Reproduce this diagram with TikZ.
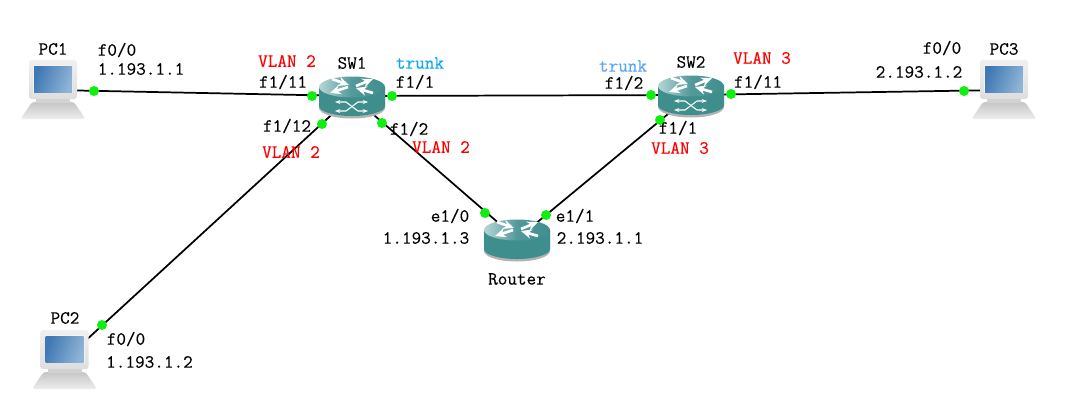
\documentclass[tikz,border=0pt]{standalone}
\usepackage{fontspec}
\setmonofont[FakeBold=0.35]{Latin Modern Mono}
\usetikzlibrary{arrows.meta}
\definecolor{teal1}{HTML}{3F8E8E}
\definecolor{teal2}{HTML}{B5D5D5}
\definecolor{port}{HTML}{10F010}
\definecolor{trunk1}{HTML}{0AA5F5}
\definecolor{trunk2}{HTML}{55A5F0}
\definecolor{screen1}{HTML}{3F78B4}
\definecolor{screen2}{HTML}{8FB4D6}
\tikzset{
  pics/drumicon/.style={code={
    \fill[gray!60] (-33,-9) -- (-33,12) arc[start angle=180,end angle=0,x radius=33,y radius=10.5] -- (33,-9) -- cycle;
    \fill[teal1] (-33,-9) -- (-33,10) arc[start angle=180,end angle=0,x radius=33,y radius=10] -- (33,-9) -- cycle;
    \shade[left color=teal2,right color=teal1,middle color=teal1!90!white] (0,-9) ellipse[x radius=33,y radius=10.5];
    \draw[white,line width=2pt,-{Stealth[length=8pt,width=7pt]}] (4,-10) -- (21,-17);
    \draw[white,line width=2pt,-{Stealth[length=8pt,width=7pt]}] (-4,-9) -- (-22,-3);
    \draw[white,line width=2pt,-{Stealth[length=8pt,width=7pt]}] (-20,-17) -- (-3,-11);
    \draw[white,line width=2pt,-{Stealth[length=8pt,width=7pt]}] (21,-3) -- (4,-8);
  }},
  pics/swarrows/.style={code={
    \draw[white,line width=0.8pt,{Stealth[length=4pt]}-{Stealth[length=4pt]}] (-17,6) -- (-6,6) -- (6,15) -- (16,15);
    \draw[white,line width=0.8pt,{Stealth[length=4pt]}-{Stealth[length=4pt]}] (-17,15) -- (-6,15) -- (6,6) -- (16,6);
  }},
  pics/laptopicon/.style={code={
    \shade[top color=gray!45,bottom color=gray!14,rounded corners=2pt] (-21,12) -- (21,12) -- (32.5,29) -- (-32.5,29) -- cycle;
    \fill[gray!35] (-17,8) rectangle (17,13);
    \shade[top color=gray!12,bottom color=gray!26,rounded corners=2pt] (-24,-30) rectangle (24,9);
    \fill[white!90!gray] (-20,-25) rectangle (20,3);
    \shade[left color=screen1,right color=screen2,shading angle=70] (-19,-24) rectangle (19,2);
  }}
}
\begin{document}
\begin{tikzpicture}[x=0.75pt,y=-0.75pt,
    device/.style={inner sep=0pt, minimum size=2pt},
    portdot/.style={circle, fill=port, minimum size=7.5pt, inner sep=0pt},
    lbl/.style={font=\ttfamily\fontsize{14}{16}\selectfont, inner sep=0pt},
    vlan/.style={lbl, red},
    link/.style={line width=1.3pt}]
    \useasboundingbox (0,0) rectangle (1069,415);

    \node[device] (pc1) at (53,90) {};
    \node[device] (pc2) at (64.5,360) {};
    \node[device] (pc3) at (1004,90) {};
    \node[device] (sw1) at (352,96) {};
    \node[device] (sw2) at (691,95) {};
    \node[device] (router) at (517,239) {};

    \draw[link] (pc1)--(sw1)--(sw2)--(pc3);
    \draw[link] (pc2)--(sw1);
    \draw[link] (sw1)--(router)--(sw2);

    \pic at (pc1) {laptopicon};
    \pic at (pc2) {laptopicon};
    \pic at (pc3) {laptopicon};
    \pic at (sw1) {drumicon};
    \pic at (sw1) {swarrows};
    \pic at (sw2) {drumicon};
    \pic at (sw2) {swarrows};
    \pic at (router) {drumicon};

    \node[portdot] (d1) at (94,91) {};
    \node[portdot] (d2) at (312,96) {};
    \node[portdot] (d3) at (392,96) {};
    \node[portdot] (d4) at (322,124) {};
    \node[portdot] (d5) at (382,123) {};
    \node[portdot] (d6) at (102,325) {};
    \node[portdot] (d7) at (485,213) {};
    \node[portdot] (d8) at (546,215) {};
    \node[portdot] (d9) at (651,95) {};
    \node[portdot] (d10) at (660,120) {};
    \node[portdot] (d11) at (731,94) {};
    \node[portdot] (d12) at (964,91) {};

    \node[lbl] (n1) at (53,49) {PC1};
    \node[lbl] (n2) at (65,318) {PC2};
    \node[lbl] (n3) at (1004,49) {PC3};
    \node[lbl] (n4) at (352,63) {SW1};
    \node[lbl] (n5) at (691,62) {SW2};
    \node[lbl] (n6) at (517,279) {Router};

    \node[lbl] (a1) at (117,50) {f0/0};
    \node[lbl] (a2) at (141,69) {1.193.1.1};
    \node[lbl] (a3) at (126,339) {f0/0};
    \node[lbl] (a4) at (149.5,362) {1.193.1.2};
    \node[lbl] (a5) at (942,48) {f0/0};
    \node[lbl] (a6) at (919,72) {2.193.1.2};
    \node[lbl] (a7) at (283,82) {f1/11};
    \node[lbl] (a8) at (415,82) {f1/1};
    \node[lbl] (a9) at (287,126) {f1/12};
    \node[lbl] (a10) at (409,129) {f1/2};
    \node[lbl] (a11) at (624,83) {f1/2};
    \node[lbl] (a12) at (758,82) {f1/11};
    \node[lbl] (a13) at (678,128) {f1/1};
    \node[lbl] (a14) at (450,216) {e1/0};
    \node[lbl] (a15) at (575,216) {e1/1};
    \node[lbl] (a16) at (426,238) {1.193.1.3};
    \node[lbl] (a17) at (600,238) {2.193.1.1};

    \node[vlan] (v1) at (287,61) {VLAN 2};
    \node[vlan] (v2) at (291,152) {VLAN 2};
    \node[vlan] (v3) at (441,147) {VLAN 2};
    \node[vlan] (v4) at (762,58) {VLAN 3};
    \node[vlan] (v5) at (680,148) {VLAN 3};
    \node[lbl, trunk1] (t1) at (420,63) {trunk};
    \node[lbl, trunk2] (t2) at (623,66) {trunk};
\end{tikzpicture}
\end{document}
